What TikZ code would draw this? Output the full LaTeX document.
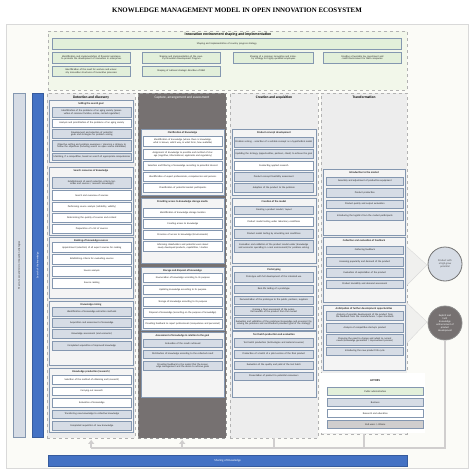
\documentclass[tikz,border=0pt]{standalone}
\usepackage{fontspec}
\setmainfont{Carlito}
\newfontfamily\titlefont{Liberation Serif}
\usetikzlibrary{arrows.meta}
\definecolor{bgcream}{HTML}{FBFBF7}
\definecolor{frameline}{HTML}{D9D9D9}
\definecolor{topfill}{HTML}{F2F7EA}
\definecolor{greenbox}{HTML}{E2EFDA}
\definecolor{bline}{HTML}{8497B0}
\definecolor{bgrey}{HTML}{D6DCE5}
\definecolor{colfill}{HTML}{EDEDED}
\definecolor{darkcol}{HTML}{767171}
\definecolor{grpfill}{HTML}{F4F4F4}
\definecolor{kblue}{HTML}{4472C4}
\definecolor{userfill}{HTML}{D0CECE}
\definecolor{fbcol}{HTML}{D0CECE}
\definecolor{chev}{HTML}{F0F0EE}
\newcommand\kbox[7]{%
  \pgfmathsetmacro\kw{#4-#2}\pgfmathsetmacro\kh{#5-#3}\pgfmathsetmacro\kt{#4-#2-2}%
  \node[#6, minimum width=\kw pt, minimum height=\kh pt, text width=\kt pt, anchor=north west] (#1) at (#2,#3) {#7};}
\newcommand\cb[5]{\kbox{#1}{\bxa}{#2}{\bxb}{#3}{#4}{#5}}
\newcommand\kgrp[6]{\kbox{#1}{#2}{#3}{#4}{#5}{grp}{}%
  \node[ghead] (#1h) at ({(#2+#4)/2},{#3+3.3}) {#6};}
\begin{document}
\begin{tikzpicture}[x=1pt,y=-1pt,
  kb/.style={draw=bline, line width=0.65pt, inner sep=0.4pt, align=center, font=\fontsize{2.5}{2.9}\selectfont, text=black!85},
  wb/.style={kb, fill=white},
  gb/.style={kb, fill=bgrey},
  grn/.style={kb, fill=greenbox},
  usr/.style={kb, fill=userfill},
  grp/.style={draw=bline, line width=0.5pt, fill=grpfill, inner sep=0pt},
  ghead/.style={font=\bfseries\fontsize{2.7}{3}\selectfont, text=black!85, inner sep=0pt},
  colp/.style={draw=black!30, dashed, line width=0.4pt, fill=colfill, inner sep=0pt},
  darkp/.style={draw=black!40, dashed, line width=0.4pt, fill=darkcol, inner sep=0pt},
  chdr/.style={font=\bfseries\fontsize{3.6}{4}\selectfont, text=black, inner sep=0pt},
  hdr/.style={font=\bfseries\fontsize{3.9}{4.3}\selectfont, text=black, inner sep=0pt},
  framebox/.style={draw=frameline, line width=0.8pt, fill=bgcream, inner sep=0pt},
  toppanel/.style={draw=black!30, dashed, line width=0.4pt, fill=topfill, inner sep=0pt},
  lbar/.style={draw=bline, line width=0.6pt, fill=bgrey, inner sep=0pt},
  bbar/.style={draw=kblue!80!black, line width=0.4pt, fill=kblue, inner sep=0pt, text=white, font=\fontsize{3}{3.4}\selectfont},
  circ/.style={circle, minimum size=34pt, inner sep=0pt, align=center, font=\fontsize{2.6}{3}\selectfont},
  fbline/.style={draw=fbcol, line width=2.2pt},
  fbarrow/.style={fbline, -{Triangle[width=6pt,length=4pt]}},
  legp/.style={fill=white, draw=none, inner sep=0pt}
]
\useasboundingbox (0,0) rectangle (474,471);
\node[font={\titlefont\bfseries\fontsize{6.9}{7.3}\selectfont}] (title) at (237,10) {KNOWLEDGE MANAGEMENT MODEL IN OPEN INNOVATION ECOSYSTEM};
\kbox{frame}{6}{24}{468}{468}{framebox}{}
% top region
\kbox{top}{48}{31}{407}{90}{toppanel}{}
\node[hdr] (toph) at (228,34.5) {Innovation environment shaping and implementation};
\kbox{t0}{52}{38}{401}{49}{grn}{Shaping and implementation of country progress strategy}
\kbox{t1}{52}{52}{130}{63}{grn}{Identification and implementation of financial assistance to promote the development of innovation in enterprises}
\kbox{t2}{142}{52}{220}{63}{grn}{Shaping and implementation of the country Innovation Development Program}
\kbox{t3}{233}{52}{313}{63}{grn}{Shaping of a common innovation and industry strategy for highly qualified employees}
\kbox{t4}{323}{52}{401}{63}{grn}{Creating a favorable tax, investment and credit environment for R\&D companies}
\kbox{t5}{52}{66}{130}{76}{grn}{Identification of the need for venture and university innovation structures of innovative processes}
\kbox{t6}{142}{66}{220}{76}{grn}{Shaping of national strategic direction of R\&D}
% left bars
\kbox{bar1}{13}{93}{25}{437}{lbar}{}
\node[rotate=90, font=\fontsize{2.6}{3}\selectfont, text=black!80] (bar1t) at (bar1.center) {Macro, meso and micro innovation strategies};
\kbox{bar2}{32}{93}{43}{437}{bbar}{}
\node[rotate=90, font=\fontsize{2.6}{3}\selectfont, text=white] (bar2t) at (bar2.center) {Search of the knowledge};
% column panels
\kbox{col1}{47}{93}{135}{438}{colp}{}
\kbox{col2}{138}{93}{226}{438}{darkp}{}
\kbox{col3}{230}{93}{318}{438}{colp}{}
\kbox{col4}{321}{93}{407}{434}{colp}{}
\node[chdr] (col1h) at (91,97.5) {Detection and discovery};
\node[chdr, text=white, font=\fontsize{3.5}{4}\selectfont] (col2h) at (182,97.5) {Capture, arrangement and assessment};
\node[chdr] (col3h) at (274,97.5) {Creation and acquisition};
\node[chdr] (col4h) at (364,97.5) {Transformation};
% column 1
\def\bxa{52}\def\bxb{131}
\kgrp{g11}{49}{100}{133}{162}{Setting the search goal}
\cb{g11a}{107}{117}{gb}{Identification of the problems of an aging society (preservation of common families, online, carried regulation)}
\cb{g11b}{119}{127}{wb}{Analysis and prioritization of the problems of an aging society}
\cb{g11c}{129}{138}{gb}{Development and selection of potential goals and strategies for problem solving}
\cb{g11d}{140}{151}{gb}{Objective setting and problem awareness / planning a strategy to follow the objectives (including search on open source databases)}
\cb{g11e}{153}{160}{gb}{Matching, if a competitive, based on search of appropriate competencies}
\kgrp{g12}{49}{167}{133}{235}{Search resources of knowledge}
\cb{g12a}{177}{188}{gb}{Establishment of search selection criteria (priorities and sources / research knowledge)}
\cb{g12b}{190}{200}{wb}{Search and overview of sources}
\cb{g12c}{202}{211}{wb}{Performing source analysis (reliability, validity)}
\cb{g12d}{213}{222}{wb}{Determining the quality of sources and content}
\cb{g12e}{224}{233}{wb}{Preparation of a list of sources}
\kgrp{g13}{49}{237}{133}{298}{Ranking of knowledge sources}
\cb{g13a}{242}{252}{wb}{Appointment (selection) of all expert sources for ranking}
\cb{g13b}{254}{264}{wb}{Establishing criteria for evaluating sources}
\cb{g13c}{266}{276}{wb}{Source analysis}
\cb{g13d}{278}{288}{wb}{Source ranking}
\kgrp{g14}{49}{301}{133}{365}{Knowledge mining}
\cb{g14a}{307}{316}{gb}{Identification of knowledge extraction methods}
\cb{g14b}{318}{327}{gb}{Acquisition and assessment of knowledge}
\cb{g14c}{329}{338}{gb}{Knowledge assessment (and economic)}
\cb{g14d}{341}{350}{gb}{Completed acquisition of improved knowledge}
\kgrp{g15}{49}{368}{133}{432}{Knowledge production (research)}
\cb{g15a}{375}{384}{wb}{Selection of the method of obtaining and (research)}
\cb{g15b}{387}{395}{wb}{Carrying out research}
\cb{g15c}{398}{407}{wb}{Evaluation of knowledge}
\cb{g15d}{410}{418}{gb}{Transferring new knowledge to collective knowledge}
\cb{g15e}{421}{430}{gb}{Completed acquisition of new knowledge}
% column 2
\def\bxa{143}\def\bxb{222}
\kgrp{g21}{141}{129}{224}{195}{Clarification of Knowledge}
\cb{g21a}{136}{146}{wb}{Identification of knowledge (where there is knowledge, what is known, which way, in what form, how available)}
\cb{g21b}{149}{159}{wb}{Assignment of knowledge to possible and method of storage (cognitive, informational, applicants and regulatory)}
\cb{g21c}{161}{170}{wb}{Selection and filtering of knowledge according to potential interest}
\cb{g21d}{172}{181}{wb}{Identification of expert professionals, competencies and persons}
\cb{g21e}{183}{192}{wb}{Classification of potential market participants}
\kgrp{g22}{141}{198}{224}{263}{Providing access to knowledge storage media}
\cb{g22a}{208}{217}{wb}{Identification of knowledge storage location}
\cb{g22b}{219}{228}{wb}{Creating access to knowledge}
\cb{g22c}{230}{239}{wb}{Provision of access to knowledge (Environments)}
\cb{g22d}{241}{251}{wb}{Informing stakeholders and potential users about newly developed products, capabilities / studies}
\kgrp{g23}{141}{267}{224}{330}{Storage and disposal of knowledge}
\cb{g23a}{273}{282}{wb}{Enumeration of knowledge according to its purpose}
\cb{g23b}{285}{294}{wb}{Updating knowledge according to its purpose}
\cb{g23c}{297}{306}{wb}{Storage of knowledge according to its purpose}
\cb{g23d}{308}{317}{wb}{Disposal of knowledge (according on the purpose of knowledge)}
\cb{g23e}{319}{328}{wb}{Providing feedback to report professionals (competence and personnel)}
\kgrp{g24}{141}{332}{224}{397}{Assessment of knowledge in relation to the goal}
\cb{g24a}{339}{347}{gb}{Evaluation of the results achieved}
\cb{g24b}{350}{358}{gb}{Distribution of knowledge according to the collected result}
\cb{g24c}{361}{370}{gb}{Providing feedback to the model that the knowledge management and the desire to achieve goals}
% column 3
\def\bxa{234}\def\bxb{313}
\kgrp{g31}{232}{129}{316}{195}{Product concept development}
\cb{g31a}{137}{147}{gb}{Problem solving -- selection of a suitable concept as a hypothetical model}
\cb{g31b}{149}{158}{gb}{Updating the strategy (opportunities, partners, check) to achieve the goal}
\cb{g31c}{161}{170}{wb}{Conducting applied research}
\cb{g31d}{172}{181}{gb}{Product concept feasibility assessment}
\cb{g31e}{183}{192}{gb}{Adoption of the product to the problem}
\kgrp{g32}{232}{198}{316}{263}{Creation of the model}
\cb{g32a}{206}{214}{gb}{Creating a product model / layout}
\cb{g32b}{217}{226}{wb}{Product model testing under laboratory conditions}
\cb{g32c}{229}{238}{gb}{Product model testing by simulating real conditions}
\cb{g32d}{240}{252}{gb}{Evaluation and validation of the product model under (knowledge and economic operating in a real environment) for problem solving}
\kgrp{g33}{232}{266}{316}{330}{Prototyping}
\cb{g33a}{272}{282}{gb}{Prototype with full development of the intended use}
\cb{g33b}{285}{293}{gb}{Real-life testing of a prototype}
\cb{g33c}{296}{304}{gb}{Demonstration of the prototype to the public, partners, suppliers}
\cb{g33d}{306}{315}{gb}{Gaining a final assessment of the potential benefits of the product from the market}
\cb{g33e}{317}{328}{gb}{Evaluation and validation of the prototype (knowledge and economic) by solving the problems and contributions provided (goal of the strategy)}
\kgrp{g34}{232}{331}{316}{397}{Test batch production and evaluation}
\cb{g34a}{338}{347}{gb}{Test batch production (technologies and material sources)}
\cb{g34b}{350}{358}{gb}{Production of a batch of a pilot version of the final product}
\cb{g34c}{361}{369}{gb}{Evaluation of the quality and yield of the test batch}
\cb{g34d}{372}{380}{gb}{Presentation of product to potential consumers}
% column 4
\def\bxa{326}\def\bxb{403}
\kgrp{g41}{323}{169}{405}{235}{Introduction to the market}
\cb{g41a}{177}{185}{gb}{Assembly and adjustment of production equipment}
\cb{g41b}{188}{197}{gb}{Product production}
\cb{g41c}{200}{208}{gb}{Product quality and output evaluation}
\cb{g41d}{211}{220}{gb}{Introducing the logistics from the market participants}
\kgrp{g42}{323}{237}{405}{302}{Collection and evaluation of feedback}
\cb{g42a}{246}{254}{gb}{Gathering feedback}
\cb{g42b}{257}{266}{gb}{Assessing popularity and demand of the product}
\cb{g42c}{268}{277}{gb}{Evaluation of exploitation of the product}
\cb{g42d}{280}{288}{gb}{Product durability and demand assessment}
\kgrp{g43}{323}{305}{405}{370}{Anticipation of further development opportunities}
\cb{g43a}{311}{320}{gb}{Analysis of possible development of the product from the feedback from the manufacturers / open standards}
\cb{g43b}{323}{332}{gb}{Analysis of competitive startup's product}
\cb{g43c}{334}{345}{gb}{Choosing the need to change and adapt to current needs (knowledge generation / improvement process)}
\cb{g43d}{347}{355}{gb}{Introducing the new product life cycle}
% legend
\kbox{leg}{320}{373}{425}{433}{legp}{}
\node[font=\bfseries\fontsize{3}{3.4}\selectfont, text=black!85] (actors) at (375,381) {ACTORS};
\def\bxa{327}\def\bxb{423}
\cb{l1}{387}{395}{grn}{Public administration}
\cb{l2}{398}{406}{gb}{Business}
\cb{l3}{409}{417}{wb}{Research and education}
\cb{l4}{420}{428}{usr}{End users / citizens}
% chevrons and outcomes
\fill[chev, draw=black!15, line width=0.4pt] (407,247) -- (427,265) -- (407,285) -- cycle;
\fill[chev, draw=black!15, line width=0.4pt] (407,303) -- (427,322) -- (407,343) -- cycle;
\node[circ, fill=bgrey, draw=black!55, line width=0.8pt, text=black!70] (o1) at (445,264) {Product with\\a high-grow\\potential};
\node[circ, fill=darkcol, draw=black!45, line width=0.8pt, text=white] (o2) at (445,323) {Explicit and\\tacit\\knowledge\\enhancement of\\product\\development};
% feedback lines
\coordinate (j1) at (91,448);
\coordinate (j5) at (445,448);
\draw[fbline] (o2.south) -- (j5) -- (j1);
\draw[fbline] (col3.south) -- (col3.south |- j1);
\draw[fbline] (col4.south) -- (col4.south |- j1);
\draw[fbarrow] (col1.south |- j1) -- ([yshift=-1.5pt]col1.south);
\draw[fbarrow] (col2.south |- j1) -- ([yshift=-1.5pt]col2.south);
% sharing bar
\kbox{share}{48}{455}{407}{466}{bbar}{}
\node[text=white, font=\fontsize{3}{3.4}\selectfont] (sharet) at (share.center) {Sharing of Knowledge};
\end{tikzpicture}
\end{document}
